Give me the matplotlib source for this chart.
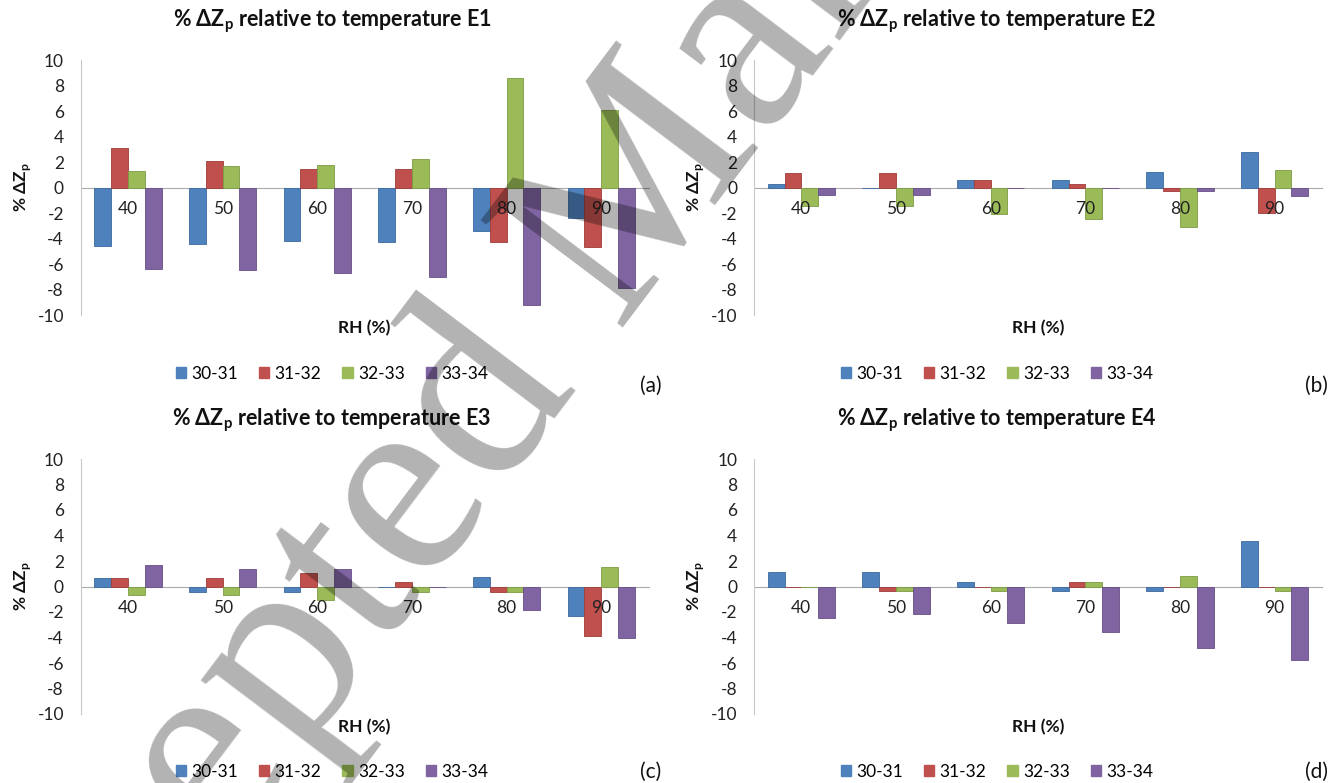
import numpy as np
import matplotlib
matplotlib.use("Agg")
import matplotlib.pyplot as plt
from matplotlib.patches import Patch

plt.rcParams['font.family'] = ['Lato', 'DejaVu Sans']
plt.rcParams['mathtext.fontset'] = 'custom'
plt.rcParams['mathtext.rm'] = 'Lato'
plt.rcParams['mathtext.bf'] = 'Lato:bold'
plt.rcParams['axes.unicode_minus'] = False

rh = ['40', '50', '60', '70', '80', '90']
series = ['30-31', '31-32', '32-33', '33-34']
colors = ['#4F81BD', '#C0504D', '#9BBB59', '#8064A2']
edges = ['#3A6A9E', '#A03C39', '#7E9C45', '#664E87']

# % dZp per panel, one list per temperature step (30-31, 31-32, 32-33, 33-34)
e1 = [[-4.6, -4.4, -4.2, -4.3, -3.4, -2.4],
      [3.1, 2.1, 1.45, 1.45, -4.3, -4.65],
      [1.3, 1.7, 1.75, 2.2, 8.6, 6.05],
      [-6.4, -6.5, -6.7, -7.0, -9.2, -7.9]]
e2 = [[0.25, 0.0, 0.55, 0.55, 1.2, 2.8],
      [1.1, 1.1, 0.55, 0.25, -0.3, -2.0],
      [-1.45, -1.45, -2.1, -2.45, -3.1, 1.4],
      [-0.6, -0.6, 0.0, 0.0, -0.3, -0.7]]
e3 = [[0.7, -0.4, -0.4, 0.0, 0.75, -2.3],
      [0.7, 0.7, 1.05, 0.35, -0.4, -3.85],
      [-0.7, -0.7, -1.05, -0.4, -0.4, 1.55],
      [1.7, 1.4, 1.4, 0.0, -1.85, -4.0]]
e4 = [[1.1, 1.1, 0.35, -0.35, -0.35, 3.6],
      [0.0, -0.35, 0.0, 0.35, 0.0, 0.0],
      [0.0, -0.35, -0.35, 0.35, 0.8, -0.35],
      [-2.5, -2.15, -2.9, -3.6, -4.8, -5.8]]

panels = [('E1', e1, '(a)'), ('E2', e2, '(b)'), ('E3', e3, '(c)'), ('E4', e4, '(d)')]

W, H = 1331, 783
fig = plt.figure(figsize=(W / 100, H / 100), dpi=100)

def fx(px):
    return px / W

def fy(py):
    return 1 - py / H

lefts = [80.6, 754]
tops = [60, 459]
legend_y = [374, 772]
tag_y = [386, 772]
width_px = 568
height_px = 255

x = np.arange(len(rh))
bw = 0.1775
for i, (name, data, tag) in enumerate(panels):
    col, row = i % 2, i // 2
    left = lefts[col]
    top = tops[row]
    ax = fig.add_axes([fx(left), fy(top + height_px), width_px / W, height_px / H])
    ax.set_axisbelow(False)
    for k, vals in enumerate(data):
        ax.bar(x + (k - 1.5) * bw, vals, bw, color=colors[k], edgecolor=edges[k],
               linewidth=0.6, zorder=2)
    ax.set_xlim(-0.5, len(rh) - 0.5)
    ax.set_ylim(-10, 10)
    ax.set_yticks(range(-10, 11, 2))
    ax.set_xticks(x)
    ax.set_xticklabels(rh)
    ax.tick_params(axis='both', length=0, labelsize=12.5, labelcolor='#222222')
    ax.tick_params(axis='x', pad=10)
    ax.tick_params(axis='y', pad=12)
    for s in ['top', 'right']:
        ax.spines[s].set_visible(False)
    ax.spines['bottom'].set_position(('data', 0))
    ax.spines['bottom'].set_color('#ABABAB')
    ax.spines['bottom'].set_zorder(1)
    ax.spines['left'].set_color('#C8C8C8')
    ax.set_facecolor('none')

    cx = 332 + col * 665
    fig.text(fx(cx), fy(top - 39), r'% ΔZ$_{\mathbf{p}}$ relative to temperature ' + name,
             ha='center', va='center', fontsize=15.5, fontweight='bold', color='#111111')
    fig.text(fx(left - 58), fy(top + 127), r'% ΔZ$_{\mathbf{p}}$', rotation=90,
             ha='center', va='center', fontsize=12.5, fontweight='bold', color='#111111')
    fig.text(fx(left + width_px / 2), fy(top + 268), 'RH (%)', ha='center', va='center',
             fontsize=12.5, fontweight='bold', color='#111111')
    handles = [Patch(facecolor=c, edgecolor=c) for c in colors]
    fig.legend(handles, series, loc='center', bbox_to_anchor=(fx(cx), fy(legend_y[row])),
               ncol=4, frameon=False, fontsize=12.5, handlelength=0.6, handleheight=0.6,
               handletextpad=0.3, columnspacing=1.2, borderpad=0)
    fig.text(fx(651 + col * 665), fy(tag_y[row]), tag, ha='center', va='center',
             fontsize=15, color='#111111')

# "Accepted Manuscript" watermark
fig.text(fx(662), fy(276), 'Accepted Manuscript', family='Liberation Serif',
         fontsize=195, rotation=53, rotation_mode='anchor', ha='center', va='baseline',
         color='black', alpha=0.3, zorder=10)

fig.savefig('out.png', dpi=100)
